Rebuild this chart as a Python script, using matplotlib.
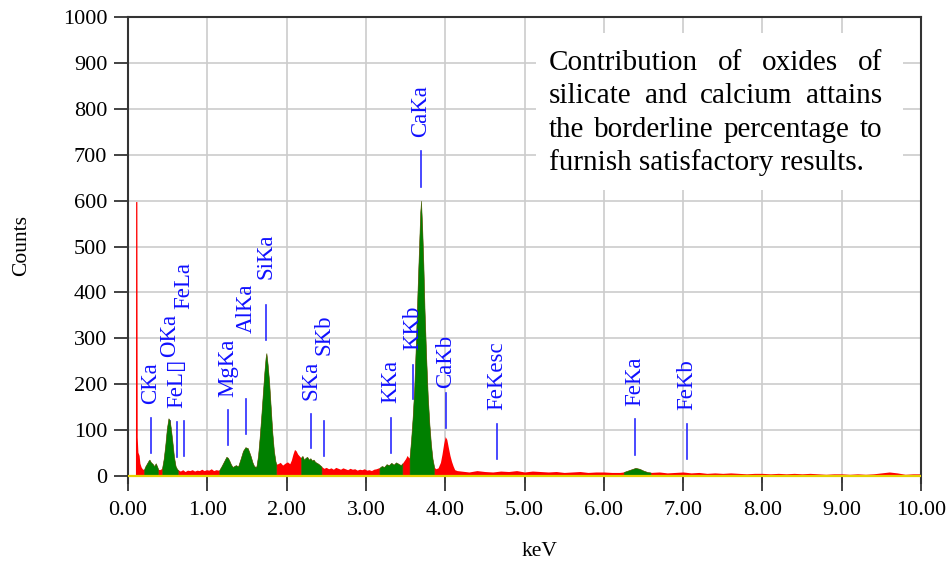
import numpy as np
import matplotlib
matplotlib.use('Agg')
import matplotlib.pyplot as plt

plt.rcParams['font.family'] = ['Liberation Serif', 'DejaVu Sans']

# spectrum (keV, counts)
kev = [0.09, 0.094, 0.096, 0.112, 0.116, 0.125, 0.14, 0.15, 0.165, 0.18, 0.20,
       0.22, 0.24, 0.26, 0.27, 0.29, 0.31, 0.33, 0.35, 0.37, 0.38,
       0.40, 0.42, 0.43,
       0.45, 0.47, 0.49, 0.51, 0.525, 0.54, 0.56, 0.58, 0.60, 0.62, 0.63,
       0.66, 0.69, 0.72, 0.75, 0.78, 0.81, 0.84, 0.87, 0.90, 0.93, 0.96, 0.99,
       1.02, 1.05, 1.08, 1.11, 1.14, 1.15,
       1.18, 1.21, 1.24, 1.26, 1.28, 1.30, 1.32, 1.34, 1.36, 1.38, 1.39,
       1.42, 1.45, 1.48, 1.51, 1.53, 1.55, 1.57, 1.59, 1.61, 1.62,
       1.64, 1.66, 1.68, 1.70, 1.72, 1.735, 1.745, 1.76, 1.78, 1.80, 1.82, 1.84, 1.86, 1.87,
       1.89, 1.92, 1.95, 1.98, 2.01, 2.04, 2.06, 2.08, 2.10, 2.12, 2.14, 2.16, 2.18,
       2.20, 2.22, 2.24, 2.26, 2.28, 2.30, 2.32, 2.34, 2.36, 2.38, 2.40, 2.42, 2.44,
       2.47, 2.50, 2.53, 2.56, 2.59, 2.62, 2.65, 2.68, 2.71, 2.74, 2.77, 2.80,
       2.83, 2.86, 2.89, 2.92, 2.95, 2.98, 3.01, 3.04, 3.07, 3.10, 3.13, 3.16, 3.17,
       3.20, 3.23, 3.26, 3.29, 3.32, 3.35, 3.38, 3.41, 3.44, 3.46,
       3.48, 3.50, 3.52, 3.54, 3.55,
       3.57, 3.59, 3.61, 3.63, 3.65, 3.67, 3.685, 3.695, 3.71, 3.725, 3.74, 3.76,
       3.78, 3.80, 3.82, 3.84, 3.86,
       3.88, 3.91, 3.94, 3.96, 3.98, 4.00, 4.02, 4.04, 4.06, 4.08, 4.10, 4.12, 4.15,
       4.2, 4.3, 4.4, 4.5, 4.6, 4.7, 4.8, 4.9, 5.0, 5.1, 5.2, 5.3, 5.4, 5.5, 5.6,
       5.7, 5.8, 5.9, 6.0, 6.1, 6.2, 6.25,
       6.30, 6.35, 6.40, 6.45, 6.50, 6.55, 6.59,
       6.7, 6.8, 6.9, 7.0, 7.1, 7.2, 7.3, 7.4, 7.5, 7.6, 7.7, 7.8, 7.9, 8.0, 8.1,
       8.2, 8.3, 8.4, 8.5, 8.6, 8.7, 8.8, 8.9, 9.0, 9.1, 9.2, 9.3, 9.4, 9.5, 9.6,
       9.7, 9.8, 9.9, 10.0]
counts = [0, 0, 598, 598, 85, 52, 45, 28, 20, 16, 14,
          22, 28, 34, 36, 30, 27, 22, 28, 20, 15,
          14, 16, 18,
          38, 68, 104, 126, 122, 105, 75, 42, 22, 15, 14,
          11, 14, 10, 13, 12, 14, 11, 13, 12, 15, 12, 14,
          13, 16, 12, 14, 13, 13,
          22, 32, 42, 40, 33, 25, 20, 22, 24, 22, 22,
          38, 55, 63, 61, 52, 42, 30, 22, 20, 22,
          45, 85, 130, 180, 228, 258, 268, 245, 205, 150, 95, 55, 32, 26,
          27, 30, 24, 28, 31, 27, 35, 48, 58, 55, 48, 44, 40,
          44, 36, 40, 42, 36, 39, 34, 36, 31, 29, 27, 24, 21,
          17, 19, 16, 18, 15, 19, 17, 15, 18, 16, 14, 17,
          15, 16, 13, 15, 14, 16, 13, 14, 12, 15, 16, 18, 18,
          22, 20, 26, 24, 29, 25, 30, 27, 24, 28,
          33, 38, 45, 40, 40,
          80, 130, 195, 290, 400, 500, 575, 600, 540, 460, 360, 260,
          175, 115, 70, 38, 20,
          16, 18, 30, 48, 70, 86, 80, 62, 45, 32, 22, 14, 12,
          11, 9, 12, 10, 9, 11, 10, 12, 9, 11, 10, 9, 10, 8, 9,
          10, 8, 9, 9, 8, 8, 9,
          12, 15, 18, 16, 12, 9, 8,
          9, 7, 8, 9, 7, 8, 6, 7, 6, 7, 6, 5, 6, 6, 5,
          6, 5, 6, 5, 6, 5, 4, 5, 5, 4, 5, 4, 5, 7, 9,
          7, 4, 5, 5]

# windows shaded green (identified peaks)
peak_windows = [(0.20, 0.38), (0.43, 0.63), (1.15, 1.87), (2.18, 2.44),
                (3.17, 3.46), (3.55, 3.86), (6.25, 6.59)]

# peak markers
label_names = ['CKa', 'OKa', 'FeL\u25af', 'FeLa', 'MgKa', 'AlKa', 'SiKa', 'SKa', 'SKb',
               'KKa', 'KKb', 'CaKa', 'CaKb', 'FeKesc', 'FeKa', 'FeKb']
label_kev = [0.29, 0.525, 0.62, 0.705, 1.26, 1.49, 1.74, 2.31, 2.47,
             3.32, 3.59, 3.69, 4.01, 4.65, 6.39, 7.05]
line_lo = [50, 50, 41, 44, 68, 91, 296, 61, 44, 50, 168, 630, 105, 37, 46, 37]
line_hi = [126, 120, 118, 120, 144, 168, 372, 135, 120, 126, 242, 708, 181, 113, 124, 113]
text_y = [157, 259, 148, 364, 172, 311, 429, 166, 264, 159, 275, 739, 192, 144, 152, 144]

note_lines = ['Contribution of oxides of',
              'silicate and calcium attains',
              'the borderline percentage to',
              'furnish satisfactory results.']

x = np.array(kev)
y = np.array(counts)

fig = plt.figure(figsize=(9.5, 5.64), dpi=100)
ax = fig.add_axes([128/950, 1 - 483/564, (921-128)/950, (483-17)/564])

ax.fill_between(x, y, 0, color='#ff0000', lw=0, zorder=2)
for a, b in peak_windows:
    m = (x >= a - 1e-9) & (x <= b + 1e-9)
    ax.fill_between(x[m], y[m], 0, color='#008000', lw=0.4, edgecolor='#4d6a10', zorder=3)
ax.plot([0, 10], [0, 0], color='#e6d200', lw=1.6, zorder=4)

for name, e, lo, hi, ty in zip(label_names, label_kev, line_lo, line_hi, text_y):
    ax.plot([e, e], [lo, hi], color='#2a2aff', lw=1.2, zorder=1)
    ax.text(e, ty, name, rotation=90, ha='center', va='bottom', color='#1010ff',
            fontsize=16.5, zorder=5)

ax.set_xlim(0, 10)
ax.set_ylim(-15, 1000)
ax.set_xticks(np.arange(0, 11, 1))
ax.set_xticklabels([f'{v:.2f}' for v in range(11)])
ax.set_yticks(np.arange(0, 1001, 100))
ax.tick_params(axis='both', labelsize=16, color='#222222', width=1.2)
ax.tick_params(axis='y', direction='out', length=10, pad=5)
ax.tick_params(axis='x', direction='inout', length=12, pad=7)
ax.grid(True, color='#cccccc', lw=1.2, zorder=0)
ax.set_axisbelow(True)
for s in ['left', 'right', 'top']:
    ax.spines[s].set_color('#333333')
    ax.spines[s].set_linewidth(1.5)
ax.spines['bottom'].set_visible(False)

fig.text(22/950, 1 - 245/564, 'Counts', rotation=90, ha='center', va='center', fontsize=15.5)
fig.text(540/950, 1 - 552/564, 'keV', ha='center', va='center', fontsize=15.5)

# white note box and justified text
ax.add_patch(plt.Rectangle((5.145, 623), 9.77 - 5.145, 965 - 623, facecolor='white',
                           edgecolor='none', zorder=6))
renderer = fig.canvas.get_renderer()
x0, x1 = 549, 882
for i, line in enumerate(note_lines):
    base = 564 - (70 + i * 33.4)
    if i == len(note_lines) - 1:
        fig.text(x0/950, base/564, line, fontsize=21, va='baseline', ha='left', zorder=7)
        continue
    words = line.split()
    texts = [fig.text(0, base/564, w, fontsize=21, va='baseline', ha='left', zorder=7) for w in words]
    widths = [t.get_window_extent(renderer).width for t in texts]
    gap = (x1 - x0 - sum(widths)) / (len(words) - 1)
    pos = x0
    for t, w in zip(texts, widths):
        t.set_x(pos/950)
        pos += w + gap

fig.savefig('out.png', dpi=100)
